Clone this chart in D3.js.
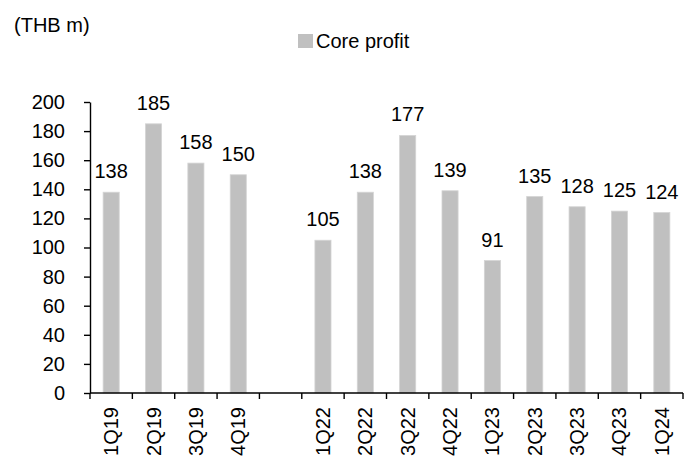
<!DOCTYPE html>
<html>
<head>
<meta charset="utf-8">
<script src="https://cdn.jsdelivr.net/npm/d3@7/dist/d3.min.js"></script>
<style>
  body { margin: 0; background: #fff; }
  text { font-family: "Liberation Sans", Arial, sans-serif; fill: #000; }
</style>
</head>
<body>
<svg id="target"></svg>
<script>
const quarters = ["1Q19", "2Q19", "3Q19", "4Q19", "", "1Q22", "2Q22", "3Q22", "4Q22",
  "1Q23", "2Q23", "3Q23", "4Q23", "1Q24"];
const coreProfit = [138, 185, 158, 150, null, 105, 138, 177, 139, 91, 135, 128, 125, 124];
const yTicks = [0, 20, 40, 60, 80, 100, 120, 140, 160, 180, 200];

const width = 692;
const height = 475;
const margin = {top: 102, right: 9, bottom: 82, left: 90};
const fontSize = 20;

const svg = d3.select('#target')
  .attr('width', width)
  .attr('height', height);

const x = d3.scaleBand()
    .domain(d3.range(quarters.length))
    .range([margin.left, width - margin.right])
    .paddingInner(0.62)
    .paddingOuter(0.31);

const y = d3.scaleLinear()
    .domain([0, 200])
    .range([height - margin.bottom, margin.top]);

const data = quarters.map((q, i) => ({i: i, q: q, v: coreProfit[i]}));

// bars
svg.append("g")
  .selectAll("rect")
  .data(data.filter(d => d.v != null))
  .enter().append("rect")
    .attr("x", d => x(d.i))
    .attr("y", d => y(d.v))
    .attr("width", x.bandwidth())
    .attr("height", d => y(0) - y(d.v))
    .attr("fill", "#c0c0c0")
    .attr("stroke", "#d4d4d4")
    .attr("stroke-width", 0.8);

// value labels
svg.append("g")
  .selectAll("text")
  .data(data.filter(d => d.v != null))
  .enter().append("text")
    .attr("x", d => x(d.i) + x.bandwidth() / 2)
    .attr("y", d => y(d.v) - 14)
    .attr("text-anchor", "middle")
    .attr("font-size", fontSize)
    .text(d => d.v);

// y axis
const yAxis = svg.append("g")
    .attr("transform", "translate(" + margin.left + ",0)")
    .call(d3.axisLeft(y).tickValues(yTicks).tickSize(6).tickSizeOuter(0).tickPadding(19));
yAxis.selectAll("text").attr("font-size", fontSize).attr("font-family", null);
yAxis.select(".domain").attr("stroke-width", 1.4);
yAxis.selectAll(".tick line").attr("stroke-width", 1.4);

// x axis: ticks on slot boundaries
const step = x.step();
const bounds = d3.range(quarters.length + 1).map(i => margin.left + i * step);
const xg = svg.append("g");
xg.append("line")
    .attr("x1", margin.left).attr("x2", width - margin.right)
    .attr("y1", y(0)).attr("y2", y(0))
    .attr("stroke", "#000").attr("stroke-width", 1.4);
xg.selectAll(".tk")
  .data(bounds)
  .enter().append("line")
    .attr("class", "tk")
    .attr("x1", d => d).attr("x2", d => d)
    .attr("y1", y(0)).attr("y2", y(0) + 6)
    .attr("stroke", "#000").attr("stroke-width", 1.4);

xg.selectAll(".lbl")
  .data(data.filter(d => d.q))
  .enter().append("text")
    .attr("class", "lbl")
    .attr("text-anchor", "end")
    .attr("font-size", fontSize)
    .attr("dy", "0.35em")
    .attr("transform", d => "translate(" + (x(d.i) + x.bandwidth() / 2) + "," + (y(0) + 14) + ") rotate(-90)")
    .text(d => d.q);

// unit label
svg.append("text")
    .attr("x", 14)
    .attr("y", 32)
    .attr("font-size", fontSize)
    .text("(THB m)");

// legend
svg.append("rect")
    .attr("x", 298).attr("y", 34)
    .attr("width", 15).attr("height", 14)
    .attr("fill", "#c0c0c0");
svg.append("text")
    .attr("x", 316)
    .attr("y", 48)
    .attr("font-size", fontSize)
    .text("Core profit");
</script>
</body>
</html>
